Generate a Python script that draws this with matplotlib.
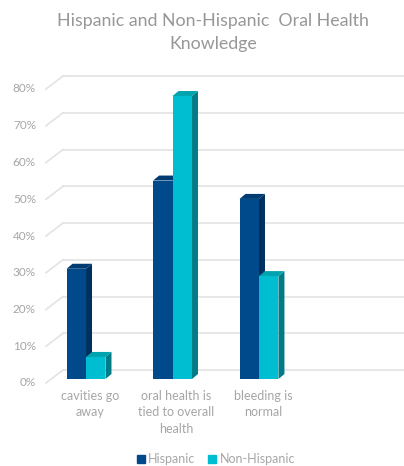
import numpy as np
import matplotlib
matplotlib.use("Agg")
import matplotlib.pyplot as plt
from matplotlib.patches import Polygon, Patch
from matplotlib.transforms import ScaledTranslation

categories = ["cavities go\naway", "oral health is\ntied to overall\nhealth", "bleeding is\nnormal"]
hispanic = [0.30, 0.54, 0.49]
non_hispanic = [0.06, 0.77, 0.28]
yticks = [0.0, 0.1, 0.2, 0.3, 0.4, 0.5, 0.6, 0.7, 0.8]
ytick_labels = ["0%", "10%", "20%", "30%", "40%", "50%", "60%", "70%", "80%"]

plt.rcParams['font.family'] = ['Lato', 'DejaVu Sans']

W, H = 404, 466
dpi = 100
fig = plt.figure(figsize=(W / dpi, H / dpi), dpi=dpi)
ax = fig.add_axes([51 / W, (H - 379) / H, 341 / W, 294 / H])
ax.set_xlim(-0.405, 3.538)
ax.set_ylim(0, 0.8)
ax.axis("off")

grid_c = "#E3E3E3"
text_c = "#A6A6A6"
title_c = "#979797"


def px(dx, dy):
    # offset in pixels (dy positive = up)
    return ScaledTranslation(dx / dpi, dy / dpi, fig.dpi_scale_trans)


back = ax.transData + px(12, 9)
front = ax.transData + px(-5, -4)
xl, xr = ax.get_xlim()

# back wall gridlines + diagonal floor/wall joints
for t in yticks:
    ax.plot([xl, xr], [t, t], color=grid_c, lw=1.2, transform=back, clip_on=False, zorder=0)
    a = front.transform((xl, t))
    b = back.transform((xl, t))
    ax.plot([a[0], b[0]], [a[1], b[1]], color=grid_c, lw=1.2, transform=None, clip_on=False, zorder=0)

for t, lab in zip(yticks, ytick_labels):
    ax.text(xl, t, lab, transform=ax.transData + px(-15, -4), ha="right", va="center",
            fontsize=8.5, color=text_c)

x = np.arange(len(categories))
w = 0.225
series = [
    (hispanic, x - w / 2, "#004A8C", "#00315E", "#003C72", "Hispanic"),
    (non_hispanic, x + w / 2, "#00BED2", "#007C86", "#00A3AE", "Non-Hispanic"),
]
ddx, ddy = 6, 5
for vals, xs, c_front, c_side, c_top, name in series:
    ax.bar(xs, vals, w, color=c_front, zorder=3, edgecolor="none")
    for xc, v in zip(xs, vals):
        x0, x1 = xc - w / 2, xc + w / 2
        p0 = ax.transData.transform((x1, 0))
        p1 = ax.transData.transform((x1, v))
        p2 = ax.transData.transform((x0, v))
        side = [p0, p1, p1 + [ddx, ddy], p0 + [ddx, ddy]]
        top = [p2, p1, p1 + [ddx, ddy], p2 + [ddx, ddy]]
        ax.add_patch(Polygon(side, closed=True, color=c_side, transform=None, zorder=2, lw=0))
        ax.add_patch(Polygon(top, closed=True, color=c_top, transform=None, zorder=2, lw=0))

for xc, lab in zip(x, categories):
    ax.text(xc, 0, lab, transform=ax.transData + px(4, -11), ha="center", va="top",
            fontsize=9, color=text_c, linespacing=1.45)

fig.text(213 / W, 1 - 13 / H, "Hispanic and Non-Hispanic  Oral Health\nKnowledge", ha="center", va="top",
         fontsize=12.8, color=title_c, linespacing=1.5, transform=fig.transFigure)

handles = [Patch(color="#004A8C", label="Hispanic"), Patch(color="#00BED2", label="Non-Hispanic")]
fig.legend(handles=handles, loc="center", bbox_to_anchor=(216 / W, (H - 459) / H), ncol=2, frameon=False,
           fontsize=9, labelcolor=text_c, handlelength=0.6, handleheight=0.6, handletextpad=0.3,
           columnspacing=1.0)

fig.savefig("out.png", dpi=dpi)
